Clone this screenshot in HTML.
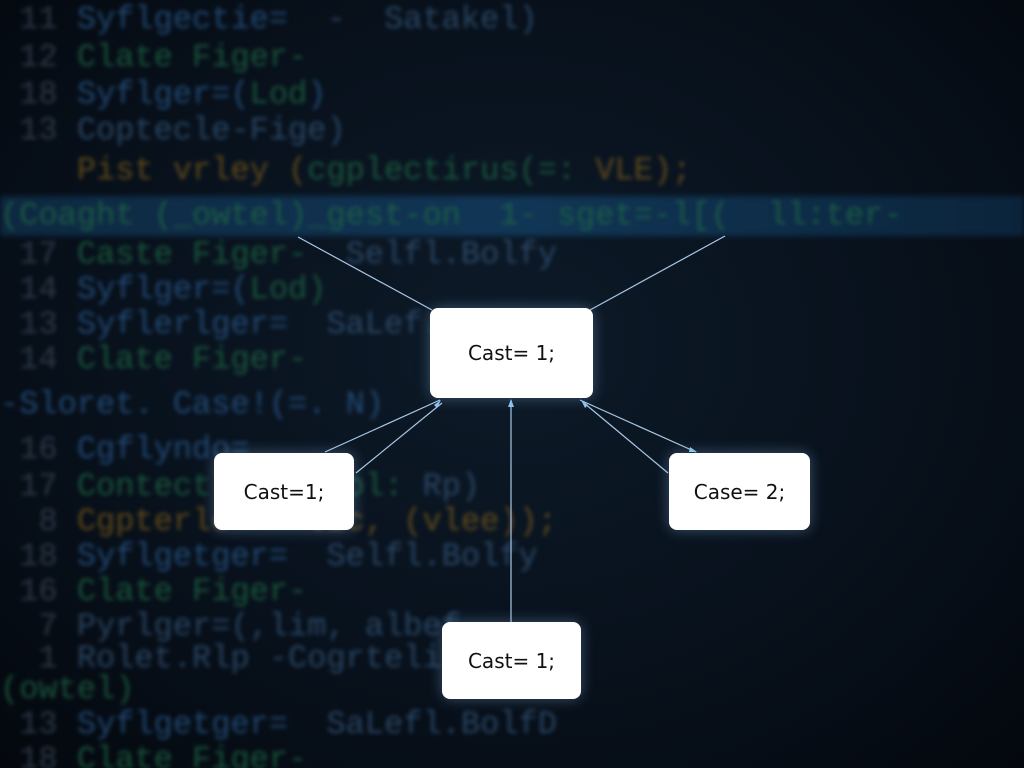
<!DOCTYPE html>
<html><head><meta charset="utf-8"><style>
html,body{margin:0;padding:0;width:1024px;height:768px;overflow:hidden}
body{background:#070d16;position:relative;font-family:"Liberation Mono",monospace}
.bg{position:absolute;inset:0;background:radial-gradient(ellipse at 50% 45%,#0d1a28 0%,#08111c 55%,#04080e 100%)}
.band{position:absolute;left:0;top:196px;width:1024px;height:40px;background:linear-gradient(90deg,#0f2b45,#123a5c 50%,#0c2740);filter:blur(3px);opacity:.9}
.code{position:absolute;left:0;top:0;width:1024px;height:768px;filter:blur(2.2px);font-size:32px;opacity:.75}
.code div{position:absolute;left:0;height:36px;line-height:36px;white-space:pre;transform:translateY(-18px)}
.n{color:#3a4656}.b{color:#2a5b8f}.g{color:#1f6b45}.o{color:#7a5a1c}.t{color:#35577a}
.box{position:absolute;background:#fff;border-radius:8px;box-shadow:0 0 14px rgba(150,200,255,.35);display:flex;align-items:center;justify-content:center;font-family:"DejaVu Sans","Liberation Sans",sans-serif;font-size:20px;color:#111}
svg{position:absolute;left:0;top:0}
</style></head><body>
<div class="bg"></div>
<div class="band"></div>
<div class="code"><div style="top:20px"><span class="n"> 11 </span><span class="b">Syflgectie=</span><span class="t">  -  Satakel)</span></div><div style="top:58px"><span class="n"> 12 </span><span class="g">Clate Figer-</span></div><div style="top:95px"><span class="n"> 18 </span><span class="b">Syflger=(</span><span class="g">Lod</span><span class="b">)</span></div><div style="top:131px"><span class="n"> 13 </span><span class="t">Coptecle-Fige)</span></div><div style="top:171px"><span class="n">    </span><span class="o">Pist vrley (</span><span class="g">cgplectirus(=: </span><span class="o">VLE);</span></div><div style="top:216px"><span class="g">(Coaght (_owtel)_gest-on  1- sget=-l[(  ll:ter-</span></div><div style="top:255px"><span class="n"> 17 </span><span class="g">Caste Figer-</span><span class="t">  Selfl.Bolfy</span></div><div style="top:290px"><span class="n"> 14 </span><span class="b">Syflger=(</span><span class="g">Lod)</span></div><div style="top:325px"><span class="n"> 13 </span><span class="b">Syflerlger=  </span><span class="t">SaLef.</span></div><div style="top:360px"><span class="n"> 14 </span><span class="g">Clate Figer-</span></div><div style="top:405px"><span class="b">-Sloret. Case!(=. N)</span></div><div style="top:450px"><span class="n"> 16 </span><span class="b">Cgflyndo=</span></div><div style="top:487px"><span class="n"> 17 </span><span class="g">Contectl     ool: </span><span class="t">Rp)</span></div><div style="top:522px"><span class="n">  8 </span><span class="o">Cgpterlo    tic, (vlee));</span></div><div style="top:557px"><span class="n"> 18 </span><span class="b">Syflgetger=  </span><span class="t">Selfl.Bolfy</span></div><div style="top:592px"><span class="n"> 16 </span><span class="g">Clate Figer-</span></div><div style="top:627px"><span class="n">  7 </span><span class="t">Pyrlger=(,lim, albef</span></div><div style="top:659px"><span class="n">  1 </span><span class="t">Rolet.Rlp -Cogrtelin</span></div><div style="top:690px"><span class="g">(owtel)</span></div><div style="top:725px"><span class="n"> 13 </span><span class="b">Syflgetger=  </span><span class="t">SaLefl.BolfD</span></div><div style="top:760px"><span class="n"> 18 </span><span class="g">Clate Figer-</span></div></div>
<svg width="1024" height="768">
<g stroke="#a9c8e6" stroke-width="1.2" fill="none">
<line x1="298" y1="237" x2="432" y2="310"/>
<line x1="725" y1="236" x2="590" y2="310"/>
<line x1="325" y1="452" x2="440" y2="400"/>
<line x1="356" y1="473" x2="442" y2="403"/>
<line x1="696" y1="452" x2="580" y2="400"/>
<line x1="668" y1="473" x2="584" y2="403"/>
<line x1="511" y1="622" x2="511" y2="400"/>
</g>
<g fill="#8fc3ef">
<polygon points="511,399 508,407 514,407"/>
<polygon points="441,400 434,405 437,408"/>
<polygon points="581,400 588,405 585,408"/>
<polygon points="697,452 690,447 689,452"/>
</g>
</svg>
<div class="box" style="left:430px;top:308px;width:163px;height:90px">Cast= 1;</div>
<div class="box" style="left:214px;top:453px;width:140px;height:77px">Cast=1;</div>
<div class="box" style="left:669px;top:453px;width:141px;height:77px">Case= 2;</div>
<div class="box" style="left:442px;top:622px;width:139px;height:77px">Cast= 1;</div>
</body></html>
